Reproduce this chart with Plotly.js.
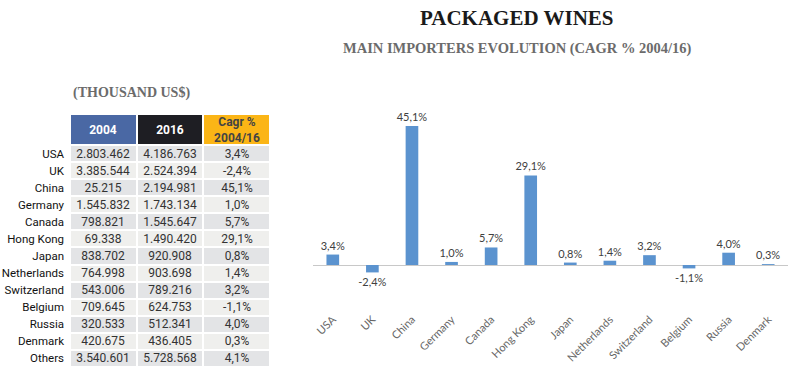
<!DOCTYPE html>
<html>
<head>
<meta charset="utf-8">
<script src="https://cdn.plot.ly/plotly-3.0.1.min.js"></script>
<style>html,body{margin:0;padding:0;background:#fff;}#chart{width:799px;height:382px;}</style>
</head>
<body>
<div id="chart"></div>
<script>
// ---- Data ----
const countries = ["USA","UK","China","Germany","Canada","Hong Kong","Japan","Netherlands","Switzerland","Belgium","Russia","Denmark","Others"];
const values2004 = ["2.803.462","3.385.544","25.215","1.545.832","798.821","69.338","838.702","764.998","543.006","709.645","320.533","420.675","3.540.601"];
const values2016 = ["4.186.763","2.524.394","2.194.981","1.743.134","1.545.647","1.490.420","920.908","903.698","789.216","624.753","512.341","436.405","5.728.568"];
const cagr = [3.4,-2.4,45.1,1.0,5.7,29.1,0.8,1.4,3.2,-1.1,4.0,0.3,4.1];
const columnKeys = ["2004", "2016", "Cagr"];
const headerLabels = ["2004", "2016", "Cagr %<br>2004/16"];
const chartCountries = countries.slice(0, 12);
const chartCagr = cagr.slice(0, 12);

const fmt = v => v.toFixed(1).replace('.', ',') + '%';
const cagrText = cagr.map(fmt);

// table body as a heatmap grid (z = row parity for alternating fills)
const bodyZ = countries.map((c, i) => columnKeys.map(() => i % 2));
const bodyText = countries.map((c, i) => [values2004[i], values2016[i], cagrText[i]]);

const tableBody = {
  type: 'heatmap',
  x: columnKeys,
  y: countries,
  z: bodyZ,
  text: bodyText,
  texttemplate: '%{text}',
  textfont: {family: 'Roboto', size: 12, color: '#333333'},
  colorscale: [[0, '#e3e4e6'], [1, '#efefed']],
  zmin: 0, zmax: 1,
  showscale: false,
  xgap: 2, ygap: 2,
  hoverinfo: 'skip',
  xaxis: 'x2', yaxis: 'y2'
};

const tableHeader = {
  type: 'heatmap',
  x: columnKeys,
  y: ['header'],
  z: [[0, 1, 2]],
  text: [headerLabels.map(h => '<b>' + h + '</b>')],
  texttemplate: '%{text}',
  textfont: {family: 'Roboto', size: 12},
  colorscale: [[0, '#4a68a4'], [0.5, '#1e1e23'], [1, '#fbb516']],
  zmin: 0, zmax: 2,
  showscale: false,
  xgap: 2, ygap: 0,
  hoverinfo: 'skip',
  xaxis: 'x2', yaxis: 'y3'
};

const bars = {
  type: 'bar',
  x: chartCountries,
  y: chartCagr,
  text: chartCagr.map(fmt),
  textposition: 'outside',
  constraintext: 'none',
  cliponaxis: false,
  textfont: {family: 'Lato', size: 11, color: '#404040'},
  marker: {color: '#5b93cf'},
  hoverinfo: 'skip',
  xaxis: 'x',
  yaxis: 'y'
};

const layout = {
  width: 799,
  height: 382,
  autosize: false,
  margin: {l: 0, r: 0, t: 0, b: 0, pad: 0},
  paper_bgcolor: '#ffffff',
  plot_bgcolor: 'rgba(0,0,0,0)',
  showlegend: false,
  bargap: 0.68,
  xaxis: {
    domain: [313/799, 788/799],
    anchor: 'y',
    type: 'category',
    showline: false,
    showgrid: false,
    ticks: '',
    tickangle: -45,
    tickfont: {family: 'Lato', size: 11, color: '#666666'},
    fixedrange: true
  },
  yaxis: {
    domain: [1 - 310/382, 1 - 111/382],
    anchor: 'x',
    range: [-14.6, 50],
    showgrid: false,
    showticklabels: false,
    ticks: '',
    zeroline: true,
    zerolinecolor: '#c8c8c8',
    zerolinewidth: 1,
    fixedrange: true
  },
  xaxis2: {
    domain: [70/799, 270/799],
    anchor: 'y2',
    type: 'category',
    showticklabels: false,
    showgrid: false,
    zeroline: false,
    showline: false,
    ticks: '',
    fixedrange: true
  },
  yaxis2: {
    domain: [1 - 367/382, 1 - 145/382],
    anchor: 'x2',
    type: 'category',
    autorange: 'reversed',
    showgrid: false,
    zeroline: false,
    showline: false,
    ticks: '',
    ticklabelstandoff: 5,
    tickfont: {family: 'Roboto', size: 11.5, color: '#111111'},
    fixedrange: true
  },
  yaxis3: {
    domain: [1 - 144/382, 1 - 115/382],
    anchor: 'x2',
    type: 'category',
    showticklabels: false,
    showgrid: false,
    zeroline: false,
    showline: false,
    ticks: '',
    fixedrange: true
  },
  annotations: [
    {text: '<b>PACKAGED WINES</b>', xref: 'paper', yref: 'paper', x: 517/799, y: 1 - 18/382,
     xanchor: 'center', yanchor: 'middle', showarrow: false,
     font: {family: 'Liberation Serif', size: 21, color: '#1a1a1a'}},
    {text: '<b>MAIN IMPORTERS EVOLUTION (CAGR % 2004/16)</b>', xref: 'paper', yref: 'paper', x: 517/799, y: 1 - 48/382,
     xanchor: 'center', yanchor: 'middle', showarrow: false,
     font: {family: 'Liberation Serif', size: 14.5, color: '#6b6b6b'}},
    {text: '<b>(THOUSAND US$)</b>', xref: 'paper', yref: 'paper', x: 131/799, y: 1 - 93/382,
     xanchor: 'center', yanchor: 'middle', showarrow: false,
     font: {family: 'Liberation Serif', size: 14, color: '#6b6b6b'}}
  ]
};

Plotly.newPlot('chart', [tableBody, tableHeader, bars], layout, {staticPlot: true, displayModeBar: false});
</script>
</body>
</html>
